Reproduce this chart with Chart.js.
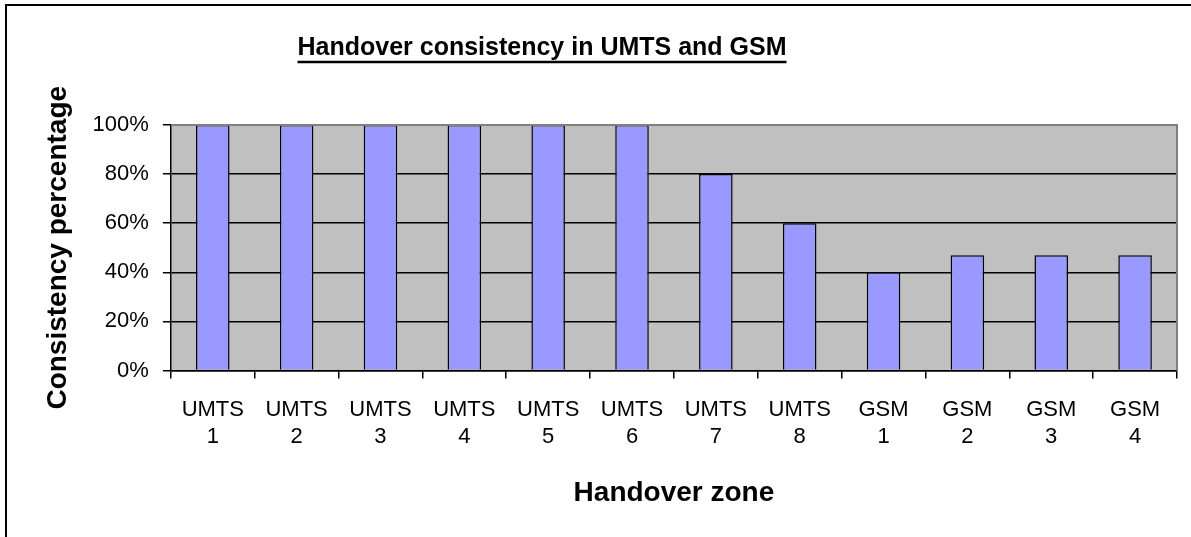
<!DOCTYPE html>
<html lang="en">
<head>
  <meta charset="UTF-8">
  <title>Handover consistency in UMTS and GSM</title>
  <style>
    body { margin: 0; background: #fff; }
    #wrap { width: 1191px; height: 537px; }
  </style>
</head>
<body>
  <div id="wrap">
    <canvas id="handoverChart" width="1191" height="537"></canvas>
  </div>

  <script src="https://cdn.jsdelivr.net/npm/chart.js"></script>
  <script>
    // categories (two-line labels) and values in percent
    const zones = [
      ['UMTS', '1'], ['UMTS', '2'], ['UMTS', '3'], ['UMTS', '4'],
      ['UMTS', '5'], ['UMTS', '6'], ['UMTS', '7'], ['UMTS', '8'],
      ['GSM', '1'], ['GSM', '2'], ['GSM', '3'], ['GSM', '4']
    ];
    const consistency = [100, 100, 100, 100, 100, 100, 80, 60, 40, 47, 47, 47];
    const yTicks = [0, 20, 40, 60, 80, 100];
    const chartTitle = 'Handover consistency in UMTS and GSM';

    const font = 'Arial, "Liberation Sans", sans-serif';

    // grey plot area, outer frame, underlined title (Excel look)
    const excelLook = {
      id: 'excelLook',
      beforeDraw(chart) {
        const ctx = chart.ctx;
        const a = chart.chartArea;
        ctx.save();
        ctx.strokeStyle = '#000';
        ctx.lineWidth = 2;
        ctx.strokeRect(6, 5, 1300, 700);
        ctx.fillStyle = '#C0C0C0';
        ctx.fillRect(a.left, a.top, a.right - a.left, a.bottom - a.top);
        ctx.restore();
      },
      afterDraw(chart) {
        const ctx = chart.ctx;
        const a = chart.chartArea;
        ctx.save();
        // plot area border, top and right in grey
        ctx.strokeStyle = '#808080';
        ctx.lineWidth = 2;
        ctx.beginPath();
        ctx.moveTo(a.left, a.top);
        ctx.lineTo(a.right, a.top);
        ctx.lineTo(a.right, a.bottom);
        ctx.stroke();
        // title with underline
        const cx = 542, cy = 48;
        ctx.font = 'bold 25px ' + font;
        ctx.fillStyle = '#000';
        ctx.textAlign = 'center';
        ctx.textBaseline = 'middle';
        ctx.fillText(chartTitle, cx, cy);
        const w = ctx.measureText(chartTitle).width;
        ctx.strokeStyle = '#000';
        ctx.lineWidth = 2.5;
        ctx.beginPath();
        ctx.moveTo(cx - w / 2, cy + 14);
        ctx.lineTo(cx + w / 2, cy + 14);
        ctx.stroke();
        ctx.restore();
      }
    };

    const ctx = document.getElementById('handoverChart').getContext('2d');
    const handoverChart = new Chart(ctx, {
      type: 'bar',
      data: {
        labels: zones,
        datasets: [{
          label: 'Consistency',
          data: consistency,
          backgroundColor: '#9999FF',
          borderColor: '#000000',
          borderWidth: 1.5,
          categoryPercentage: 1,
          barPercentage: 0.4
        }]
      },
      options: {
        responsive: false,
        animation: false,
        layout: { padding: { left: 41, right: 14, top: 125, bottom: 27 } },
        plugins: {
          legend: { display: false },
          tooltip: { enabled: false },
          title: { display: false }
        },
        scales: {
          x: {
            offset: true,
            grid: {
              offset: true,
              drawOnChartArea: false,
              drawTicks: true,
              tickLength: 8,
              color: '#000',
              lineWidth: 1.5
            },
            border: { color: '#000', width: 1.5 },
            ticks: {
              color: '#000',
              font: { family: font, size: 22, lineHeight: 1.27 },
              maxRotation: 0,
              autoSkip: false,
              padding: 17
            },
            title: {
              display: true,
              text: 'Handover zone',
              color: '#000',
              font: { family: font, size: 28, weight: 'bold' },
              padding: { top: 8, bottom: 0 }
            }
          },
          y: {
            min: 0,
            max: 100,
            afterBuildTicks(axis) {
              axis.ticks = yTicks.map(v => ({ value: v }));
            },
            grid: {
              color: '#000',
              lineWidth: 1.5,
              tickLength: 8
            },
            border: { color: '#000', width: 1.5 },
            ticks: {
              color: '#000',
              font: { family: font, size: 22 },
              padding: 14,
              callback: v => v + '%'
            },
            title: {
              display: true,
              text: 'Consistency percentage',
              color: '#000',
              font: { family: font, size: 28, weight: 'bold' },
              padding: { top: 0, bottom: 4 }
            }
          }
        }
      },
      plugins: [excelLook]
    });
  </script>
</body>
</html>
